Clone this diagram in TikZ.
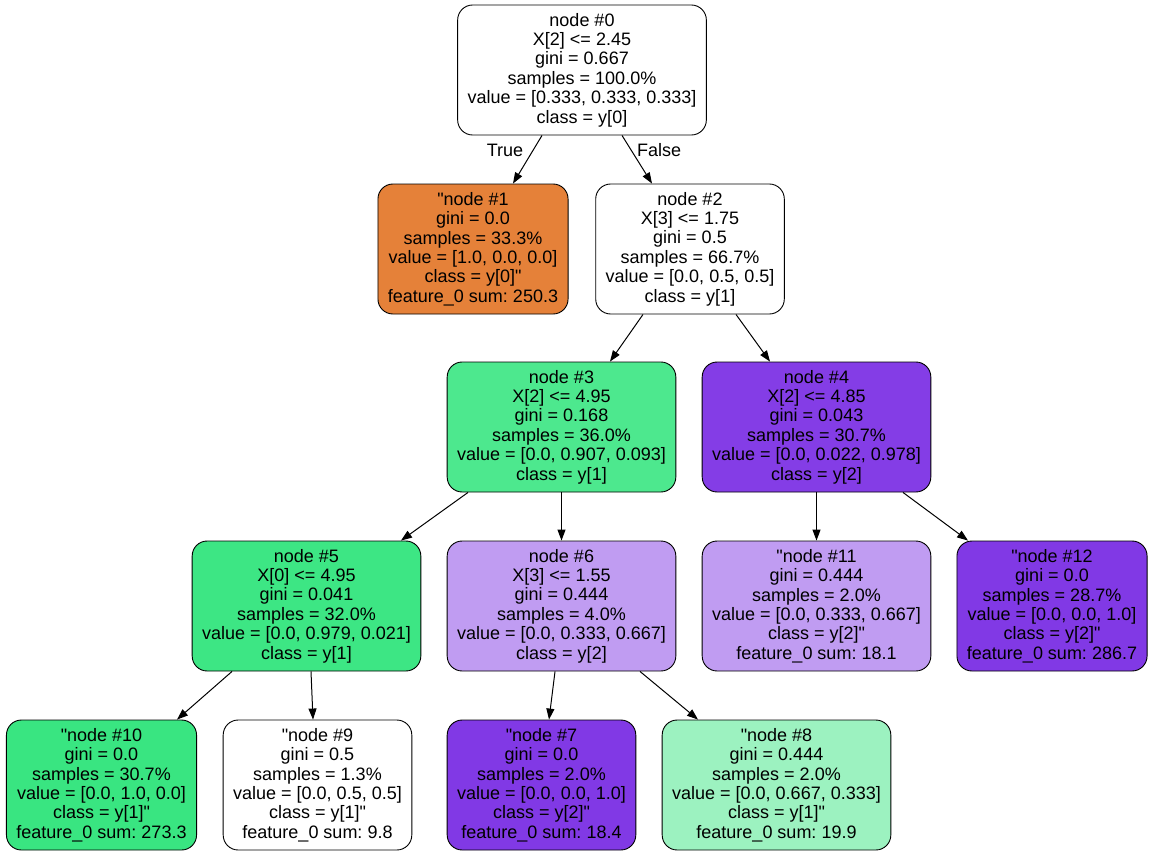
\documentclass[tikz,border=0pt]{standalone}
\usepackage{fontspec}
\setmainfont{Liberation Sans}
\usetikzlibrary{arrows.meta}
\frenchspacing
\newcommand{\qt}{\textquotedbl}

\begin{document}
\begin{tikzpicture}[x=1pt,y=-1pt,
	box/.style={draw=black,line width=0.9pt,rounded corners=15pt,align=center,
		inner xsep=10pt,minimum height=130pt,font=\fontsize{18}{19.4}\selectfont},
	edge/.style={line width=1pt,-{Triangle[length=11pt,width=8pt]}},
	lbl/.style={font=\fontsize{18}{19.4}\selectfont}]
							\definecolor{ffoorr}{HTML}{E58139}
							\definecolor{ggrrnn}{HTML}{39E581}
							\definecolor{ggrrtt}{HTML}{4DE88E}
							\definecolor{ggrrff}{HTML}{3DE684}
							\definecolor{ggllqq}{HTML}{9CF2C0}
							\definecolor{ppuurr}{HTML}{8139E5}
							\definecolor{ppuuff}{HTML}{843DE6}
							\definecolor{ppllqq}{HTML}{C09CF2}

							\useasboundingbox (0,0) rectangle (1155,856);

							\node[box,fill=white] (n0) at (582,70) {node \#0\\X[2] <= 2.45\\gini = 0.667\\samples = 100.0\%\\value = [0.333, 0.333, 0.333]\\class = y[0]};
							\node[box,fill=ffoorr] (n1) at (473,249) {\qt node \#1\\gini = 0.0\\samples = 33.3\%\\value = [1.0, 0.0, 0.0]\\class = y[0]\qt\\feature\_0 sum: 250.3};
							\node[box,fill=white] (n2) at (690,249) {node \#2\\X[3] <= 1.75\\gini = 0.5\\samples = 66.7\%\\value = [0.0, 0.5, 0.5]\\class = y[1]};

							\node[box,fill=ggrrtt] (n3) at (561.5,427) {node \#3\\X[2] <= 4.95\\gini = 0.168\\samples = 36.0\%\\value = [0.0, 0.907, 0.093]\\class = y[1]};
							\node[box,fill=ppuuff] (n4) at (816.5,427) {node \#4\\X[2] <= 4.85\\gini = 0.043\\samples = 30.7\%\\value = [0.0, 0.022, 0.978]\\class = y[2]};

							\node[box,fill=ggrrff] (n5) at (306.5,606) {node \#5\\X[0] <= 4.95\\gini = 0.041\\samples = 32.0\%\\value = [0.0, 0.979, 0.021]\\class = y[1]};
							\node[box,fill=ppllqq] (n6) at (561.5,606) {node \#6\\X[3] <= 1.55\\gini = 0.444\\samples = 4.0\%\\value = [0.0, 0.333, 0.667]\\class = y[2]};
							\node[box,fill=ppllqq] (n11) at (816.5,606) {\qt node \#11\\gini = 0.444\\samples = 2.0\%\\value = [0.0, 0.333, 0.667]\\class = y[2]\qt\\feature\_0 sum: 18.1};
							\node[box,fill=ppuurr] (n12) at (1052,606) {\qt node \#12\\gini = 0.0\\samples = 28.7\%\\value = [0.0, 0.0, 1.0]\\class = y[2]\qt\\feature\_0 sum: 286.7};

							\node[box,fill=ggrrnn] (n10) at (101.5,785) {\qt node \#10\\gini = 0.0\\samples = 30.7\%\\value = [0.0, 1.0, 0.0]\\class = y[1]\qt\\feature\_0 sum: 273.3};
							\node[box,fill=white] (n9) at (317.5,785) {\qt node \#9\\gini = 0.5\\samples = 1.3\%\\value = [0.0, 0.5, 0.5]\\class = y[1]\qt\\feature\_0 sum: 9.8};
							\node[box,fill=ppuurr] (n7) at (541.5,785) {\qt node \#7\\gini = 0.0\\samples = 2.0\%\\value = [0.0, 0.0, 1.0]\\class = y[2]\qt\\feature\_0 sum: 18.4};
							\node[box,fill=ggllqq] (n8) at (776.5,785) {\qt node \#8\\gini = 0.444\\samples = 2.0\%\\value = [0.0, 0.667, 0.333]\\class = y[1]\qt\\feature\_0 sum: 19.9};

							\draw[edge] ([xshift=-40pt]n0.south) -- ([xshift=40pt]n1.north);
							\draw[edge] ([xshift=40pt]n0.south) -- ([xshift=-38pt]n2.north);
							\node[lbl] (t) at (505,150) {True};
							\node[lbl] (f) at (659,150) {False};

							\draw[edge] ([xshift=-47pt]n2.south) -- ([xshift=48.5pt]n3.north);
							\draw[edge] ([xshift=46pt]n2.south) -- ([xshift=-46.5pt]n4.north);

							\draw[edge] ([xshift=-93.5pt]n3.south) -- ([xshift=94.5pt]n5.north);
							\draw[edge] (n3.south) -- (n6.north);
							\draw[edge] (n4.south) -- (n11.north);
							\draw[edge] ([xshift=86.5pt]n4.south) -- ([xshift=-84pt]n12.north);

							\draw[edge] ([xshift=-74.5pt]n5.south) -- ([xshift=75.5pt]n10.north);
							\draw[edge] ([xshift=4.5pt]n5.south) -- ([xshift=-4.5pt]n9.north);
							\draw[edge] ([xshift=-6.5pt]n6.south) -- ([xshift=7.5pt]n7.north);
							\draw[edge] ([xshift=78.5pt]n6.south) -- ([xshift=-78.5pt]n8.north);
						\end{tikzpicture}
\end{document}
